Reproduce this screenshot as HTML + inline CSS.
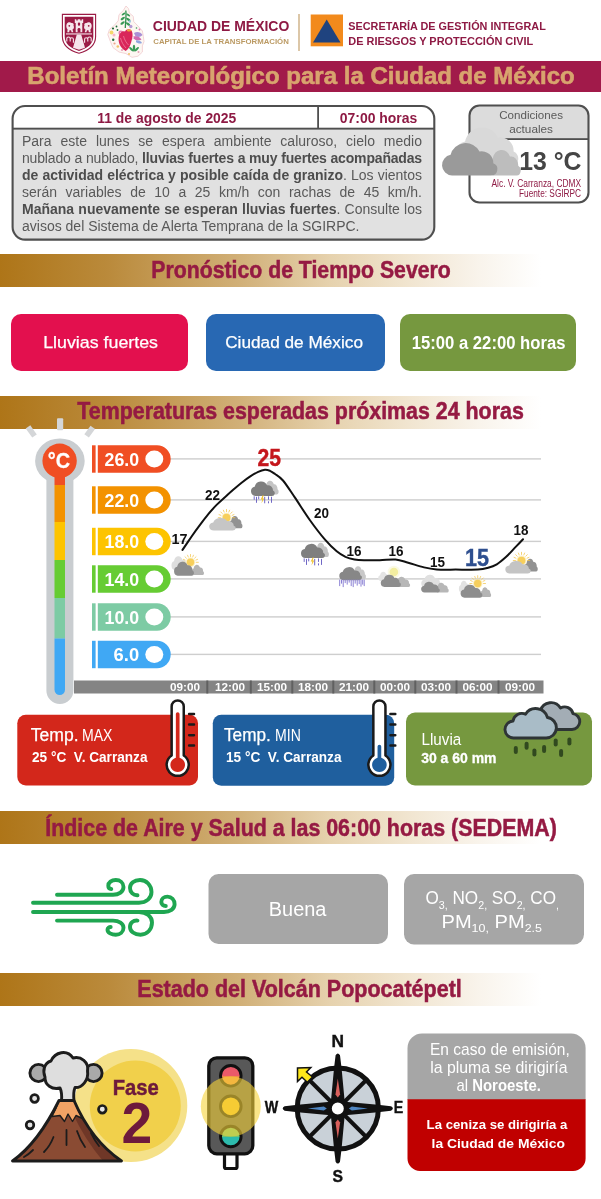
<!DOCTYPE html>
<html lang="es">
<head>
<meta charset="utf-8">
<title>Boletín Meteorológico para la Ciudad de México</title>
<style>
html,body{margin:0;padding:0;background:#fff;}
body{width:601px;height:1199px;overflow:hidden;font-family:"Liberation Sans",sans-serif;}
#page{position:relative;width:601px;height:1199px;overflow:hidden;background:#fff;}
#gfx{position:absolute;left:0;top:0;width:601px;height:1199px;will-change:transform;}
svg text{font-family:"Liberation Sans",sans-serif;}
.band{position:absolute;left:0;width:601px;height:33px;background:linear-gradient(90deg,#ae7518 0%,#ba8a3b 18%,#d1b078 40%,#e6d2ae 55%,#f1e5d0 68%,#f9f4ec 80%,#ffffff 90%);}
#para{position:absolute;left:22px;top:132.5px;width:400px;font-size:14px;line-height:17px;color:#595959;will-change:transform;filter:grayscale(1);}
#para div{text-align:justify;text-align-last:justify;white-space:nowrap;height:17px;}
#para div.last{text-align-last:left;}
#para b{color:#4d4d4d;}
</style>
</head>
<body>
<div id="page">

<!-- SECTION BANDS -->
<div class="band" style="top:61px;height:31.300px;background:#a11a4a;"></div>
<div class="band" style="top:254px;"></div>
<div class="band" style="top:396px;"></div>
<div class="band" style="top:811px;"></div>
<div class="band" style="top:972.500px;"></div>

<svg id="gfx" width="601" height="1199" viewBox="0 0 601 1199">
<defs>
  <path id="cl" d="M4.6 14 A4.600 4.600 0 0 1 4 4.900 A6.6 6.6 0 0 1 16.4 3.400 A5 5 0 0 1 22.3 8.600 A2.8 2.800 0 0 1 21.2 14 Z"/>
  <g id="sun"><circle r="4.6" fill="#f6c544"/><circle r="6" fill="#f9dc7a" opacity="0.45"/><g stroke="#f3c54a" stroke-width="0.9" stroke-linecap="round"><path d="M0 -7.200 V-9.800M5.100 -5.100 L6.900 -6.900M7.200 0 H9.800M-5.100 -5.100 L-6.900 -6.900M-7.200 0 H-9.800M2.800 -6.700 L3.700 -8.900M-2.800 -6.700 L-3.700 -8.900M6.700 -2.800 L8.900 -3.700M-6.700 -2.800 L-8.900 -3.700"/></g></g>
  <g id="rainA"><g stroke="#7068c6" stroke-width="1" stroke-linecap="butt"><path d="M3.500 0 V3.500M5.800 0.500 V6.500M8 0 V3M14 0.500 V7M17.800 0 V3.500M20.800 0.500 V6.500M17.800 5 V7"/></g><path d="M12 -1 L10 3.200 H11.600 L10.800 7 L13.600 2.200 H12 L13 -1 Z" fill="#f0c330"/></g>
  <g id="rainB" stroke="#8a80d4" stroke-width="1" stroke-linecap="butt"><path d="M0.500 0 V6.500M2.300 0 V4M4 0 V7.500M6 0 V3.500M8 0 V5M10 0 V3M12 0 V6.500M14 0 V7.500M16 0 V4M18 0 V6M20 0 V4.500M21.800 0 V7M23.500 0 V5M25 0 V6.500"/></g>
</defs>
<!--HEADER-->
<g id="hdr">
  <!-- shield -->
  <path d="M62.400 14.400 H95.600 V36.500 C95.600 45.500 89 50.500 79 53.300 C69 50.500 62.400 45.500 62.400 36.500 Z" fill="#ffffff" stroke="#9b1b45" stroke-width="1.100"/>
  <path d="M64.700 16.700 H93.300 V36.300 C93.300 43.800 87.800 48.300 79 50.900 C70.200 48.300 64.700 43.800 64.700 36.300 Z" fill="#9b1b45"/>
  <g fill="#f6e6ec">
    <path d="M74.800 19.300 H76.300 V20.600 H77.700 V19.300 H80.300 V20.600 H81.700 V19.300 H83.200 V23 H82.300 V32.300 H75.700 V23 H74.800 Z"/>
    <path d="M66.700 24 C67.500 22 70 21.500 71.500 23 C73 22.500 74.300 24 73.500 25.500 C74.500 27 73.800 29 72.500 29.500 L73.300 32.300 H71.600 L71 30.200 L69.500 30.300 L69.200 32.300 H67.300 L67.600 29.500 C66.200 28.300 66 25.500 66.700 24 Z"/>
    <path d="M91.300 24 C90.500 22 88 21.500 86.500 23 C85 22.500 83.700 24 84.500 25.500 C83.500 27 84.200 29 85.500 29.500 L84.700 32.300 H86.400 L87 30.200 L88.500 30.300 L88.800 32.300 H90.700 L90.400 29.500 C91.800 28.300 92 25.500 91.300 24 Z"/>
    <rect x="66" y="33.400" width="26" height="1.100"/>
    <path d="M76.800 34.500 H81.200 L85 47.800 L79 49.800 L73 47.800 Z"/>
    <path d="M66.800 41.500 V38.600 C66.800 36.400 70.200 36.400 70.200 38.600 V41.500 M70.200 41.500 V39.300 C70.200 37.300 73.400 37.300 73.400 39.300 V42.800" fill="none" stroke="#f6e6ec" stroke-width="1.100"/>
    <path d="M91.200 41.500 V38.600 C91.200 36.400 87.800 36.400 87.800 38.600 V41.500 M87.800 41.500 V39.300 C87.800 37.300 84.600 37.300 84.600 39.300 V42.800" fill="none" stroke="#f6e6ec" stroke-width="1.100"/>
  </g>
  <g fill="#9b1b45"><rect x="77.900" y="22.500" width="2.200" height="3.200" rx="1"/><path d="M77.600 32.300 V29.300 A1.400 1.400 0 0 1 80.400 29.300 V32.300 Z"/><circle cx="69.300" cy="25.800" r="0.900"/><circle cx="88.700" cy="25.800" r="0.900"/></g>
  <!-- cdmx map/heart logo -->
  <path d="M126 6 L128.500 8.600 L129.400 13 L133.300 16.400 L133.700 21.600 L138 26 L142.400 31 L143.300 36.300 L144 41.500 L142.400 45.800 L142.400 52 L138 56.200 L132 57.300 L126 53.600 L119 52 L113 47.600 L110.400 41.500 L107.800 34.600 L109.500 29.400 L114.700 25 L118.200 20.800 L119 14.700 L123.400 10.400 Z" fill="#fdf7f2" stroke="#f2cfd3" stroke-width="0.900" stroke-linejoin="round"/>
  <g>
    <path d="M125.800 10.500 C126.500 16 125.500 22 125.300 28" fill="none" stroke="#2f8f4e" stroke-width="1.300"/>
    <g fill="#3a9a56">
      <ellipse cx="123.500" cy="14" rx="2.200" ry="1" transform="rotate(-35 123.500 14)"/><ellipse cx="128.300" cy="15" rx="2.200" ry="1" transform="rotate(35 128.300 15)"/>
      <ellipse cx="122.800" cy="18.500" rx="2.500" ry="1.100" transform="rotate(-35 122.800 18.500)"/><ellipse cx="128.300" cy="19.500" rx="2.500" ry="1.100" transform="rotate(35 128.300 19.500)"/>
      <ellipse cx="122.600" cy="23" rx="2.500" ry="1.100" transform="rotate(-35 122.600 23)"/><ellipse cx="128" cy="24" rx="2.500" ry="1.100" transform="rotate(35 128 24)"/>
      <ellipse cx="134" cy="48" rx="1.200" ry="3.300"/><ellipse cx="136.600" cy="49.300" rx="1.100" ry="3" transform="rotate(50 136.600 49.300)"/><ellipse cx="131.500" cy="49.300" rx="1.100" ry="3" transform="rotate(-50 131.500 49.300)"/>
    </g>
    <g fill="#1f6b3a"><circle cx="113" cy="28.500" r="1.100"/><circle cx="113.200" cy="39.800" r="1.200"/><circle cx="116.500" cy="26.500" r="0.900"/><circle cx="117.500" cy="30" r="0.900"/></g>
    <circle cx="111.500" cy="32.500" r="1.900" fill="#f4d76a"/><circle cx="114" cy="35" r="1.500" fill="#f7b7c8"/>
    <circle cx="120.800" cy="32.900" r="2.400" fill="#e77ab0"/><circle cx="120.800" cy="32.900" r="1" fill="#f7d0e0"/>
    <circle cx="130.800" cy="26.500" r="1.700" fill="#b79ad6"/><circle cx="129.800" cy="21.500" r="1.200" fill="#9cc7e8"/>
    <circle cx="117.800" cy="46.500" r="1.300" fill="#f3c06a"/><circle cx="122" cy="50" r="1.100" fill="#e8a0b8"/><circle cx="114.500" cy="43.500" r="1.100" fill="#f0a58a"/>
    <path d="M134 33 C137 31 141 32 142.500 35 C141 37 138 37.500 135.500 36.500 Z" fill="#a990d6"/>
    <path d="M133.500 36.500 C136 35.500 140 36.500 141.500 39.500 C139 41 135.500 40.500 133.500 38.500 Z" fill="#d06ab0"/>
    <path d="M136 40.500 C138 40 141 41 142 43 C140 44 137.500 43.500 136 42 Z" fill="#8fa6de"/>
    <circle cx="132.200" cy="37.500" r="1.500" fill="#f4e9f1" stroke="#e9a0c0" stroke-width="0.500"/>
    <circle cx="138.500" cy="52" r="1" fill="#e8a0b8"/><circle cx="129" cy="54" r="1" fill="#f3c06a"/><circle cx="139.500" cy="29.500" r="0.900" fill="#e77ab0"/><circle cx="136.500" cy="28" r="0.800" fill="#3a9a56"/>
  </g>
  <path d="M125.800 51 C120 48 117.800 42 118.800 36.500 C119.500 32.500 122.500 30.500 125 31.500 C125.800 29.500 128.500 28.500 130.500 29.800 C132.800 31.300 133 35 132 39 C131 44 129 49 125.800 51 Z" fill="#d9265a"/>
  <path d="M127 29.800 C128.500 28.800 131 29 131.800 30.800 C130.500 31.800 128.500 31.800 127 31 Z" fill="#f0a23c"/>
  <path d="M120.500 38 C121.500 42 123.500 45.500 126 48 M123.500 36 C124.500 40 126.500 43 128.500 45" stroke="#f28aa8" stroke-width="0.700" fill="none"/>
  <!-- titles -->
  <text x="152.8" y="31.300" font-size="14.400" font-weight="bold" fill="#8e1a44" textLength="136.5" lengthAdjust="spacingAndGlyphs">CIUDAD DE MÉXICO</text>
  <text x="153.3" y="43.900" font-size="7.900" font-weight="bold" fill="#bb9a63" textLength="135.5" lengthAdjust="spacingAndGlyphs">CAPITAL DE LA TRANSFORMACIÓN</text>
  <rect x="298.300" y="14" width="1.400" height="37" fill="#cdb084"/>
  <!-- proteccion civil -->
  <rect x="310.700" y="14.500" width="32.300" height="31.800" fill="#f28a1c"/>
  <path d="M326.700 19.500 L340.500 42.500 H313 Z" fill="#1f437f"/>
  <text x="348.3" y="30" font-size="11" font-weight="bold" fill="#8e1a44" textLength="197.5" lengthAdjust="spacingAndGlyphs">SECRETARÍA DE GESTIÓN INTEGRAL</text>
  <text x="348.3" y="44.800" font-size="11" font-weight="bold" fill="#8e1a44" textLength="185.0" lengthAdjust="spacingAndGlyphs">DE RIESGOS Y PROTECCIÓN CIVIL</text>
  <!-- main title -->
  <text x="27.300" y="84.100" font-size="24" font-weight="bold" fill="#d8a46e" stroke="#d8a46e" stroke-width="0.600" textLength="547.500" lengthAdjust="spacingAndGlyphs">Boletín Meteorológico para la Ciudad de México</text>
</g>
<!--INFOBOX-->
<g id="info">
  <!-- main box -->
  <rect x="12.600" y="106" width="421.700" height="133.600" rx="12.500" ry="12.500" fill="#e1e1e1"/>
  <path d="M12.600 128.700 V118.500 A12.500 12.500 0 0 1 25.100 106 H421.800 A12.500 12.500 0 0 1 434.300 118.500 V128.700 Z" fill="#ffffff"/>
  <rect x="12.600" y="106" width="421.700" height="133.600" rx="12.500" ry="12.500" fill="none" stroke="#4f4f4f" stroke-width="2.100"/>
  <rect x="12.600" y="127.700" width="421.700" height="1.900" fill="#4f4f4f"/>
  <rect x="317.200" y="106" width="1.800" height="22.500" fill="#4f4f4f"/>
  <text x="97.3" y="122.700" font-size="14.800" font-weight="bold" fill="#8e1a44" textLength="139.0" lengthAdjust="spacingAndGlyphs">11 de agosto de 2025</text>
  <text x="339.8" y="122.700" font-size="14.800" font-weight="bold" fill="#8e1a44" textLength="77.5" lengthAdjust="spacingAndGlyphs">07:00 horas</text>
  <!-- conditions box -->
  <rect x="469.500" y="105.500" width="119" height="97" rx="10" ry="10" fill="#ffffff"/>
  <path d="M469.500 139 V115.500 A10 10 0 0 1 479.500 105.500 H578.500 A10 10 0 0 1 588.500 115.500 V139 Z" fill="#dcdcdc"/>
  <rect x="469.500" y="105.500" width="119" height="97" rx="10" ry="10" fill="none" stroke="#4f4f4f" stroke-width="2.100"/>
  <rect x="469.5" y="138.2" width="119" height="1.8" fill="#4f4f4f"/>
  <text x="499.2" y="119" font-size="11" fill="#5a5a5a" textLength="63.8" lengthAdjust="spacingAndGlyphs">Condiciones</text>
  <text x="509.2" y="132.5" font-size="11" fill="#5a5a5a" textLength="43.8" lengthAdjust="spacingAndGlyphs">actuales</text>
  <!-- cloud icon -->
  <g>
    <use href="#cl" transform="translate(454.500 128.300) scale(2.650 2.700)" fill="#d9d9d9"/>
    <use href="#cl" transform="translate(487 150.500) scale(1.400 1.780)" fill="#bdbdbd"/>
    <use href="#cl" transform="translate(441.300 143.800) scale(2.330 2.260)" fill="#9a9a9a"/>
  </g>
  <text x="519.2" y="170.3" font-size="25.300" font-weight="bold" fill="#454545" textLength="62.3" lengthAdjust="spacingAndGlyphs">13 °C</text>
  <text x="491.5" y="186.900" font-size="10" fill="#8e1a44" textLength="89.6" lengthAdjust="spacingAndGlyphs">Alc. V. Carranza, CDMX</text>
  <text x="519.0" y="197.200" font-size="10" fill="#8e1a44" textLength="62.1" lengthAdjust="spacingAndGlyphs">Fuente: SGIRPC</text>
</g>
<!--PILLS-->
<g id="pills">
  <text x="151.3" y="277.700" font-size="23.6" font-weight="bold" fill="#951a43" stroke="#951a43" stroke-width="0.500" textLength="299.5" lengthAdjust="spacingAndGlyphs">Pronóstico de Tiempo Severo</text>
  <rect x="11" y="314" width="177" height="57" rx="10" ry="10" fill="#e3104e"/>
  <rect x="206" y="314" width="179" height="57" rx="10" ry="10" fill="#2868b3"/>
  <rect x="400" y="314" width="176" height="57" rx="10" ry="10" fill="#76983f"/>
  <text x="43.2" y="347.800" font-size="16.800" fill="#ffffff" stroke="#ffffff" stroke-width="0.250" textLength="114.8" lengthAdjust="spacingAndGlyphs">Lluvias fuertes</text>
  <text x="225.2" y="347.800" font-size="16.800" fill="#ffffff" stroke="#ffffff" stroke-width="0.250" textLength="137.8" lengthAdjust="spacingAndGlyphs">Ciudad de México</text>
  <text x="411.7" y="349.300" font-size="17.600" font-weight="bold" fill="#ffffff" textLength="153.8" lengthAdjust="spacingAndGlyphs">15:00 a 22:00 horas</text>
  <text x="77.3" y="418.800" font-size="23.6" font-weight="bold" fill="#951a43" stroke="#951a43" stroke-width="0.500" textLength="446.5" lengthAdjust="spacingAndGlyphs">Temperaturas esperadas próximas 24 horas</text>
  <text x="45.3" y="836" font-size="23.6" font-weight="bold" fill="#951a43" stroke="#951a43" stroke-width="0.500" textLength="511.5" lengthAdjust="spacingAndGlyphs">Índice de Aire y Salud a las 06:00 horas (SEDEMA)</text>
  <text x="137.3" y="996.7" font-size="23.6" font-weight="bold" fill="#951a43" stroke="#951a43" stroke-width="0.500" textLength="324.500" lengthAdjust="spacingAndGlyphs">Estado del Volcán Popocatépetl</text>
</g>
<!--CHART-->
<g id="chart">
  <rect x="165" y="458.2" width="376" height="1.400" fill="#cecece"/>
  <rect x="165" y="499.2" width="376" height="1.400" fill="#cecece"/>
  <rect x="165" y="540.7" width="376" height="1.400" fill="#cecece"/>
  <rect x="165" y="578.2" width="376" height="1.400" fill="#cecece"/>
  <rect x="165" y="616.2" width="376" height="1.400" fill="#cecece"/>
  <rect x="165" y="653.7" width="376" height="1.400" fill="#cecece"/>
  <rect x="57" y="418.300" width="6.200" height="12" rx="1" fill="#d4d6d8"/>
  <path d="M28 426.800 L34.500 436" stroke="#d4d6d8" stroke-width="5.600" stroke-linecap="butt"/>
  <path d="M92.800 427.300 L86.600 435.800" stroke="#d4d6d8" stroke-width="5.600" stroke-linecap="butt"/>
  <ellipse cx="59.900" cy="461" rx="24.800" ry="22.600" fill="#c9cdd0"/><path d="M46.400 470 H73.400 V690.500 A13.500 13.500 0 0 1 46.400 690.500 Z" fill="#c9cdd0"/>
  <clipPath id="tube"><path d="M54.5 470 H65 V689.7 A5.25 5.25 0 0 1 54.5 689.7 Z"/></clipPath>
  <g clip-path="url(#tube)">
    <rect x="54" y="470" width="12" height="15" fill="#f04e23"/>
    <rect x="54" y="485" width="12" height="37" fill="#f39200"/>
    <rect x="54" y="522" width="12" height="38" fill="#fdc400"/>
    <rect x="54" y="560" width="12" height="38" fill="#66cc33"/>
    <rect x="54" y="598" width="12" height="40.5" fill="#7dcba4"/>
    <rect x="54" y="638.5" width="12" height="61.5" fill="#40a8f4"/>
  </g>
  <circle cx="59.600" cy="460.800" r="17.200" fill="#f04e23"/>
  <text x="47.800" y="467.700" font-size="22" font-weight="bold" fill="#ffffff" stroke="#ffffff" stroke-width="0.300" textLength="22.300" lengthAdjust="spacingAndGlyphs">°C</text>
  <rect x="92" y="445.3" width="3.600" height="27.400" fill="#f04e23"/>
  <path d="M97.800 445.3 H157 A13.700 13.700 0 0 1 157 472.7 H97.800 Z" fill="#f04e23"/>
  <ellipse cx="154.3" cy="459" rx="9" ry="8.4" fill="#ffffff"/>
  <text x="104.600" y="465.7" font-size="18" font-weight="bold" fill="#ffffff" textLength="34.600" lengthAdjust="spacingAndGlyphs">26.0</text>
  <rect x="92" y="486.3" width="3.600" height="27.400" fill="#f39200"/>
  <path d="M97.800 486.3 H157 A13.700 13.700 0 0 1 157 513.7 H97.800 Z" fill="#f39200"/>
  <ellipse cx="154.3" cy="500" rx="9" ry="8.4" fill="#ffffff"/>
  <text x="104.600" y="506.7" font-size="18" font-weight="bold" fill="#ffffff" textLength="34.600" lengthAdjust="spacingAndGlyphs">22.0</text>
  <rect x="92" y="527.8" width="3.600" height="27.400" fill="#fdc400"/>
  <path d="M97.800 527.8 H157 A13.700 13.700 0 0 1 157 555.2 H97.800 Z" fill="#fdc400"/>
  <ellipse cx="154.3" cy="541.5" rx="9" ry="8.4" fill="#ffffff"/>
  <text x="104.600" y="548.2" font-size="18" font-weight="bold" fill="#ffffff" textLength="34.600" lengthAdjust="spacingAndGlyphs">18.0</text>
  <rect x="92" y="565.3" width="3.600" height="27.400" fill="#66cc33"/>
  <path d="M97.800 565.3 H157 A13.700 13.700 0 0 1 157 592.7 H97.800 Z" fill="#66cc33"/>
  <ellipse cx="154.3" cy="579" rx="9" ry="8.4" fill="#ffffff"/>
  <text x="104.600" y="585.7" font-size="18" font-weight="bold" fill="#ffffff" textLength="34.600" lengthAdjust="spacingAndGlyphs">14.0</text>
  <rect x="92" y="603.3" width="3.600" height="27.400" fill="#7dcba4"/>
  <path d="M97.800 603.3 H157 A13.700 13.700 0 0 1 157 630.7 H97.800 Z" fill="#7dcba4"/>
  <ellipse cx="154.3" cy="617" rx="9" ry="8.4" fill="#ffffff"/>
  <text x="104.600" y="623.7" font-size="18" font-weight="bold" fill="#ffffff" textLength="34.600" lengthAdjust="spacingAndGlyphs">10.0</text>
  <rect x="92" y="640.8" width="3.600" height="27.400" fill="#40a8f4"/>
  <path d="M97.800 640.8 H157 A13.700 13.700 0 0 1 157 668.2 H97.800 Z" fill="#40a8f4"/>
  <ellipse cx="154.3" cy="654.5" rx="9" ry="8.4" fill="#ffffff"/>
  <text x="113.600" y="661.200" font-size="18" font-weight="bold" fill="#ffffff" textLength="25.500" lengthAdjust="spacingAndGlyphs">6.0</text>
  <rect x="74" y="680.5" width="469.5" height="13" fill="#848484"/>
  <text x="170" y="691.2" font-size="11" font-weight="bold" fill="#ffffff" textLength="30" lengthAdjust="spacingAndGlyphs">09:00</text>
  <text x="215" y="691.2" font-size="11" font-weight="bold" fill="#ffffff" textLength="30" lengthAdjust="spacingAndGlyphs">12:00</text>
  <text x="257" y="691.2" font-size="11" font-weight="bold" fill="#ffffff" textLength="30" lengthAdjust="spacingAndGlyphs">15:00</text>
  <text x="298" y="691.2" font-size="11" font-weight="bold" fill="#ffffff" textLength="30" lengthAdjust="spacingAndGlyphs">18:00</text>
  <text x="339" y="691.2" font-size="11" font-weight="bold" fill="#ffffff" textLength="30" lengthAdjust="spacingAndGlyphs">21:00</text>
  <text x="380" y="691.2" font-size="11" font-weight="bold" fill="#ffffff" textLength="30" lengthAdjust="spacingAndGlyphs">00:00</text>
  <text x="421" y="691.2" font-size="11" font-weight="bold" fill="#ffffff" textLength="30" lengthAdjust="spacingAndGlyphs">03:00</text>
  <text x="462.5" y="691.2" font-size="11" font-weight="bold" fill="#ffffff" textLength="30" lengthAdjust="spacingAndGlyphs">06:00</text>
  <text x="505" y="691.2" font-size="11" font-weight="bold" fill="#ffffff" textLength="30" lengthAdjust="spacingAndGlyphs">09:00</text>
  <rect x="206.3" y="680.500" width="2" height="13" fill="#606060"/>
  <rect x="249.8" y="680.500" width="2" height="13" fill="#606060"/>
  <rect x="291.3" y="680.500" width="2" height="13" fill="#606060"/>
  <rect x="332.3" y="680.500" width="2" height="13" fill="#606060"/>
  <rect x="373.3" y="680.500" width="2" height="13" fill="#606060"/>
  <rect x="414.3" y="680.500" width="2" height="13" fill="#606060"/>
  <rect x="455.5" y="680.500" width="2" height="13" fill="#606060"/>
  <rect x="497.5" y="680.500" width="2" height="13" fill="#606060"/>
  <path d="M182.5 549.9 C184.0 547.7 188.7 540.7 191.6 536.5 C194.5 532.3 197.2 528.6 200 524.9 C202.8 521.2 205.5 517.4 208.3 514.1 C211.1 510.8 213.8 507.7 216.6 504.9 C219.4 502.1 222.1 499.7 224.9 497.2 C227.7 494.7 230.4 492.2 233.2 489.8 C236.0 487.4 238.8 484.9 241.6 482.7 C244.4 480.5 247.1 478.4 249.9 476.6 C252.7 474.8 255.7 473.0 258.2 471.8 C260.7 470.6 262.9 469.9 264.9 469.7 C266.9 469.5 268.3 470.1 270 470.8 C271.7 471.5 272.8 472.4 275 474.0 C277.2 475.6 279.7 476.6 283 480.5 C286.3 484.4 290.3 490.8 294.8 497.4 C299.3 504.0 304.8 513.0 309.8 520 C314.8 527.0 320.3 534.2 324.8 539.4 C329.3 544.6 333.2 548.4 336.7 551.3 C340.1 554.2 342.5 555.4 345.5 556.8 C348.5 558.1 351.4 558.8 354.5 559.4 C357.6 560.0 359.8 560.1 364 560.2 C368.2 560.3 374.5 560.3 379.8 560.2 C385.1 560.1 390.9 559.1 395.6 559.5 C400.3 559.9 403.5 561.4 408.2 562.7 C412.9 564.0 419.2 566.3 424 567.4 C428.8 568.5 431.4 569.0 436.7 569.4 C442.0 569.8 448.8 569.6 455.7 569.6 C462.6 569.6 472.5 569.8 477.8 569.5 C483.1 569.2 484.1 568.9 487.3 568 C490.5 567.1 493.7 566.2 496.8 564.3 C499.9 562.4 503.0 559.7 506.2 556.8 C509.4 553.9 512.9 549.8 515.7 546.9 C518.5 544.0 521.8 540.5 523 539.2" fill="none" stroke="#111111" stroke-width="2" stroke-linecap="round"/>
  <text x="171.5" y="543.8" font-size="15.500" font-weight="bold" fill="#111" textLength="16.0" lengthAdjust="spacingAndGlyphs">17</text>
  <text x="205" y="500.3" font-size="15.500" font-weight="bold" fill="#111" textLength="15" lengthAdjust="spacingAndGlyphs">22</text>
  <text x="257.5" y="465.8" font-size="23.500" font-weight="bold" fill="#c4161c" stroke="#c4161c" stroke-width="0.400" textLength="23.5" lengthAdjust="spacingAndGlyphs">25</text>
  <text x="314" y="517.8" font-size="15.500" font-weight="bold" fill="#111" textLength="15" lengthAdjust="spacingAndGlyphs">20</text>
  <text x="346.5" y="556.3" font-size="15.500" font-weight="bold" fill="#111" textLength="15.0" lengthAdjust="spacingAndGlyphs">16</text>
  <text x="388.5" y="556.3" font-size="15.500" font-weight="bold" fill="#111" textLength="15.0" lengthAdjust="spacingAndGlyphs">16</text>
  <text x="430" y="566.8" font-size="15.500" font-weight="bold" fill="#111" textLength="15" lengthAdjust="spacingAndGlyphs">15</text>
  <text x="465" y="565.6" font-size="23.500" font-weight="bold" fill="#2e4f8f" stroke="#2e4f8f" stroke-width="0.400" textLength="24" lengthAdjust="spacingAndGlyphs">15</text>
  <text x="513.5" y="535.3" font-size="15.500" font-weight="bold" fill="#111" textLength="15.0" lengthAdjust="spacingAndGlyphs">18</text>
<g><use href="#cl" transform="translate(171.3 556.5) scale(0.68 0.95)" fill="#dedede"/><use href="#sun" transform="translate(190.5 562.3) scale(0.8)"/><use href="#cl" transform="translate(191.5 565) scale(0.52 0.72)" fill="#b4b4b4"/><use href="#cl" transform="translate(173.8 562) scale(0.84 0.98)" fill="#8d8d8d"/></g>
<g><use href="#cl" transform="translate(229 516.3) scale(0.56 0.86)" fill="#929292"/><use href="#sun" transform="translate(226.5 517.7) scale(0.84)"/><use href="#cl" transform="translate(208.8 518.2) scale(1.12 0.88)" fill="#c6c6c6"/></g>
<g><use href="#cl" transform="translate(263.5 481) scale(0.63 0.96)" fill="#c4c4c4"/><use href="#cl" transform="translate(250.7 481.8) scale(1.0 1.01)" fill="#7f7f7f"/><use href="#rainA" transform="translate(250.7 496.3) scale(1.0)"/></g>
<g><use href="#cl" transform="translate(314.5 543.1) scale(0.6 1.0)" fill="#c4c4c4"/><use href="#cl" transform="translate(300.7 544.2) scale(1.01 0.99)" fill="#7f7f7f"/><use href="#rainA" transform="translate(300.7 558.4) scale(1.0)"/></g>
<g><use href="#cl" transform="translate(352 566.6) scale(0.58 0.9)" fill="#c8c8c8"/><use href="#cl" transform="translate(339 567.4) scale(0.955 0.91)" fill="#878787"/><use href="#rainB" transform="translate(339.2 579.6) scale(1.0)"/></g>
<g><use href="#cl" transform="translate(378 572) scale(0.5 0.65)" fill="#e4e4e4"/><circle cx="393.9" cy="572" r="6.200" fill="#f8f5cc" opacity="0.500"/><circle cx="393.9" cy="572" r="4.300" fill="#f3eea0"/><use href="#cl" transform="translate(395 577) scale(0.63 0.72)" fill="#b7b7b7"/><use href="#cl" transform="translate(380.5 575) scale(0.85 0.86)" fill="#8d8d8d"/></g>
<g><use href="#cl" transform="translate(421 575) scale(0.85 0.9)" fill="#e0e0e0"/><use href="#cl" transform="translate(435.5 583) scale(0.55 0.68)" fill="#b7b7b7"/><use href="#cl" transform="translate(420.9 582) scale(0.79 0.75)" fill="#8d8d8d"/></g>
<g><use href="#cl" transform="translate(458.7 581) scale(0.5 0.8)" fill="#e2e2e2"/><use href="#sun" transform="translate(477.7 583.5) scale(0.8)"/><use href="#cl" transform="translate(480.3 587.4) scale(0.45 0.69)" fill="#b4b4b4"/><use href="#cl" transform="translate(460.3 585) scale(0.92 0.91)" fill="#8d8d8d"/></g>
<g><use href="#cl" transform="translate(524.3 559) scale(0.56 0.9)" fill="#929292"/><use href="#sun" transform="translate(521.5 560.5) scale(0.84)"/><use href="#cl" transform="translate(505 561.3) scale(1.07 0.87)" fill="#c4c4c4"/></g>
</g>
<!--CARDS-->
<g id="cards">
  <rect x="17.300" y="714.700" width="180.700" height="70.800" rx="8.500" ry="8.500" fill="#d3271b"/>
  <rect x="212.800" y="714.700" width="181.400" height="71" rx="8.500" ry="8.500" fill="#1f5f9e"/>
  <rect x="406" y="712.5" width="186" height="73" rx="9" ry="9" fill="#76983f"/>
  <text x="30.800" y="740.800" font-size="17.600" fill="#ffffff" stroke="#ffffff" stroke-width="0.250" textLength="47.800" lengthAdjust="spacingAndGlyphs">Temp.</text>
  <text x="82" y="740.800" font-size="16.200" fill="#ffffff" textLength="30.500" lengthAdjust="spacingAndGlyphs">MAX</text>
  <text x="32" y="762.300" font-size="14.400" font-weight="bold" fill="#ffffff" textLength="115.500" lengthAdjust="spacingAndGlyphs" xml:space="preserve">25 °C  V. Carranza</text>
  <text x="224" y="740.800" font-size="17.600" fill="#ffffff" stroke="#ffffff" stroke-width="0.250" textLength="46.800" lengthAdjust="spacingAndGlyphs">Temp.</text>
  <text x="275" y="740.800" font-size="16.200" fill="#ffffff" textLength="25.800" lengthAdjust="spacingAndGlyphs">MIN</text>
  <text x="226" y="762.300" font-size="14.400" font-weight="bold" fill="#ffffff" textLength="115.500" lengthAdjust="spacingAndGlyphs" xml:space="preserve">15 °C  V. Carranza</text>
  <text x="421.5" y="744.800" font-size="16.300" fill="#ffffff" textLength="39.8" lengthAdjust="spacingAndGlyphs">Lluvia</text>
  <text x="421.2" y="762.500" font-size="14.500" font-weight="bold" fill="#ffffff" stroke="#ffffff" stroke-width="0.300" textLength="75.3" lengthAdjust="spacingAndGlyphs">30 a 60 mm</text>
  <path d="M171.65 706.500 A6.05 6.05 0 0 1 183.75 706.500 V755.55 A11.05 11.05 0 1 1 171.65 755.55 Z" fill="#ffffff" stroke="#1a1a1a" stroke-width="2.500" stroke-linejoin="round"/>
  <path d="M175.85 714 A1.85 1.85 0 0 1 179.55 714 V757.74 A7.3 7.3 0 1 1 175.85 757.74 Z" fill="#d3271b"/>
  <rect x="187.9" y="712.75" width="7.300" height="2.500" rx="1.100" fill="#1a1a1a"/>
  <rect x="187.9" y="723.35" width="7.300" height="2.500" rx="1.100" fill="#1a1a1a"/>
  <rect x="187.9" y="733.95" width="7.300" height="2.500" rx="1.100" fill="#1a1a1a"/>
  <rect x="187.9" y="744.35" width="7.300" height="2.500" rx="1.100" fill="#1a1a1a"/>
  <path d="M373.35 706.500 A6.05 6.05 0 0 1 385.45 706.500 V755.55 A11.05 11.05 0 1 1 373.35 755.55 Z" fill="#ffffff" stroke="#1a1a1a" stroke-width="2.500" stroke-linejoin="round"/>
  <path d="M377.55 746.5 A1.85 1.85 0 0 1 381.25 746.5 V757.74 A7.3 7.3 0 1 1 377.55 757.74 Z" fill="#1f5f9e"/>
  <rect x="389.2" y="712.75" width="7.300" height="2.500" rx="1.100" fill="#1a1a1a"/>
  <rect x="389.2" y="723.35" width="7.300" height="2.500" rx="1.100" fill="#1a1a1a"/>
  <rect x="389.2" y="733.95" width="7.300" height="2.500" rx="1.100" fill="#1a1a1a"/>
  <rect x="389.2" y="744.35" width="7.300" height="2.500" rx="1.100" fill="#1a1a1a"/>
  <!-- rain cloud icon -->
  <g stroke="#2e3436" stroke-width="2.900" stroke-linejoin="round">
    <path d="M548 729.500 H572 A8 8 0 0 0 573 713.600 A8.5 8.5 0 0 0 560.500 708 A11 11 0 0 0 540.500 710.500 Z" fill="#a3adb5"/>
    <path d="M514 738 A8.500 8.500 0 0 1 513 721 A9 9 0 0 1 525.500 714.200 A12.200 12.200 0 0 1 547.500 717.500 A10.300 10.300 0 0 1 546 738 Z" fill="#a9bcc7"/>
  </g>
  <g fill="#31491f">
    <rect x="513.800" y="745.900" width="4" height="8" rx="2"/><rect x="524.600" y="741.700" width="4" height="8" rx="2"/>
    <rect x="532.400" y="748.400" width="4" height="8" rx="2"/><rect x="542.100" y="745.100" width="4" height="8" rx="2"/>
    <rect x="553.700" y="738.400" width="4" height="8" rx="2"/><rect x="559.100" y="748.900" width="4" height="8" rx="2"/>
    <rect x="567.400" y="737.600" width="4" height="8" rx="2"/>
  </g>
</g>
<!--AIR-->
<g id="air">
  <g fill="none" stroke="#1fa651" stroke-width="3.900" stroke-linecap="round" stroke-linejoin="round">
    <path d="M57 894.800 H113 C119 894.800 123.500 891.500 123.500 887 C123.500 882.700 120 880 115.800 880 C111.500 880 108.300 882.500 108.300 885.700 C108.300 887.500 109.500 888.800 111.300 889"/>
    <path d="M33 902.700 H139 C146.500 902.700 151.500 898 151.500 892 C151.500 885.300 146.500 880 140 880 C134 880 130 883.500 130 888 C130 892.500 133.500 895.500 137.500 895.300"/>
    <path d="M33 912 H164 C170 912 174.600 909 174.600 904.300 C174.600 899.800 171.500 896.600 167.500 896.600 C163.800 896.600 161.300 899 161.300 902 C161.300 904.300 163 906 165.800 906"/>
    <path d="M128 912 H139 C146.500 912 152 916.500 152 922.500 C152 929.500 147 934.700 140.500 934.700 C134.500 934.700 130 931.500 130 927 C130 922.700 133.500 920.200 137.500 920.600"/>
    <path d="M57 920.600 H113 C119 920.600 123.500 923.500 123.500 927.800 C123.500 932 120 934.700 115.800 934.700 C111.500 934.700 107.500 932.800 107.500 929.800 C107.500 928 109 927 110.700 927"/>
  </g>
  <rect x="208.500" y="874" width="179.500" height="70" rx="10" ry="10" fill="#a6a6a6"/>
  <rect x="404" y="874" width="180" height="70.500" rx="10" ry="10" fill="#a6a6a6"/>
  <text x="268.8" y="916" font-size="20" fill="#ffffff" textLength="57.6" lengthAdjust="spacingAndGlyphs">Buena</text>
  <g fill="#ffffff" font-size="18.500">
    <text x="425.500" y="903.600"><tspan textLength="133.500" lengthAdjust="spacingAndGlyphs">O<tspan font-size="11.500" dy="5">3,</tspan><tspan dy="-5"> NO</tspan><tspan font-size="11.500" dy="5">2,</tspan><tspan dy="-5"> SO</tspan><tspan font-size="11.500" dy="5">2,</tspan><tspan dy="-5"> CO</tspan><tspan font-size="11.500" dy="5">,</tspan></tspan></text>
    <text x="441.500" y="927.700"><tspan textLength="100.500" lengthAdjust="spacingAndGlyphs">PM<tspan font-size="11.500" dy="4.600">10,</tspan><tspan dy="-4.600"> PM</tspan><tspan font-size="11.500" dy="4.600">2.5</tspan></tspan></text>
  </g>
</g>
<!--VOLCANO-->
<g id="volc">
  <!-- fase circles -->
  <circle cx="130.800" cy="1105.500" r="56.500" fill="#f5e189"/>
  <circle cx="135.300" cy="1106" r="45.500" fill="#f1d04b"/>
  <!-- smoke -->
  <g stroke="#1c1c1c" stroke-width="2.900" stroke-linejoin="round">
    <circle cx="38.500" cy="1073" r="8.600" fill="#a9a9a9"/>
    <circle cx="93.500" cy="1073" r="8.600" fill="#a9a9a9"/>
    <path d="M61.500 1101 C62 1095 61.500 1091 60 1088 C52 1090 44.500 1085 45 1077 C42.500 1071 44 1063 51 1061 C55 1052 67 1049 73 1058 C81 1056 89 1062 87.500 1071 C89 1080 82 1088 75 1087.500 C73.500 1091 73.500 1096 74 1101 Z" fill="#dedede"/>
  </g>
  <!-- mountain -->
  <path d="M12.500 1161 Q38 1143 59 1100.500 H74 Q91 1140 121.500 1161 Z" fill="#8a4b33"/>
  <path d="M74 1100.500 Q91 1140 121.500 1161 H103 Q85 1140 72 1112 Z" fill="#6f3727"/>
  <path d="M59 1100.500 H74 Q77.500 1109 82.500 1118.500 L76 1115.500 L72.500 1121.500 L68 1114 L64.500 1121.500 L60 1115.500 L52 1116.500 Q56 1109 59 1100.500 Z" fill="#f2a365" stroke="#1c1c1c" stroke-width="1.400" stroke-linejoin="round"/>
  <path d="M12.500 1161 Q38 1143 59 1100.500 H74 Q91 1140 121.500 1161 Z" fill="none" stroke="#1c1c1c" stroke-width="2.900" stroke-linejoin="round"/>
  <g stroke="#1c1c1c" stroke-width="1.800" stroke-linecap="round" fill="none">
    <path d="M53.500 1137 Q50 1146 44 1152"/><path d="M66.500 1130 V1145"/><path d="M77 1131 Q80 1140 85 1147"/><path d="M91 1133 Q95 1141 99 1146"/><path d="M33 1150 Q28 1155 24 1157"/>
  </g>
  <g fill="#e6e6e6" stroke="#1c1c1c" stroke-width="2.700">
    <circle cx="34.600" cy="1098.500" r="3.800"/><circle cx="30" cy="1125" r="3.800"/><circle cx="102.300" cy="1109.300" r="3.800"/>
  </g>
  <text x="112.800" y="1094.500" font-size="22.500" font-weight="bold" fill="#6d1a3c" stroke="#6d1a3c" stroke-width="0.500" textLength="46" lengthAdjust="spacingAndGlyphs">Fase</text>
  <text x="121.500" y="1143" font-size="57.500" font-weight="bold" fill="#6d1a3c" textLength="30.700" lengthAdjust="spacingAndGlyphs">2</text>
  <!-- traffic light -->
  <rect x="224.500" y="1150" width="12.500" height="18.500" rx="1.500" fill="#ffffff" stroke="#111111" stroke-width="3.200" stroke-linejoin="round"/>
  <rect x="208.800" y="1057.800" width="44" height="96" rx="8" ry="8" fill="#585858" stroke="#111111" stroke-width="3.300"/>
  <clipPath id="cr"><circle cx="230.800" cy="1075.800" r="10"/></clipPath>
  <clipPath id="cg"><circle cx="230.800" cy="1136.500" r="10"/></clipPath>
  <g clip-path="url(#cr)"><rect x="220" y="1065" width="22" height="11" fill="#ea5a6a"/><rect x="220" y="1076" width="22" height="11" fill="#f08c4a"/></g>
  <g clip-path="url(#cg)"><rect x="220" y="1126" width="22" height="11" fill="#6fc276"/><rect x="220" y="1137" width="22" height="11" fill="#2dbbad"/></g>
  <circle cx="230.800" cy="1075.800" r="10.300" fill="none" stroke="#111111" stroke-width="2.900"/>
  <circle cx="230.800" cy="1136.500" r="10.300" fill="none" stroke="#111111" stroke-width="2.900"/>
  <circle cx="230.800" cy="1106.300" r="10.300" fill="#f6c02f" stroke="#111111" stroke-width="2.900"/>
  <circle cx="230.800" cy="1106.500" r="30" fill="#f7d338" opacity="0.600"/>
<!--COMPASS-->
  <g id="compass">
    <circle cx="337.8" cy="1108.5" r="40.600" fill="#c9d1d8" stroke="#111111" stroke-width="5"/>
    <g stroke="#111111" stroke-width="4" stroke-linecap="butt">
      <path d="M308.3 1079.0 L367.3 1138.0"/><path d="M367.3 1079.0 L308.3 1138.0"/>
    </g>
    <path d="M335.6 1055.3 Q337.8 1051.5 340.0 1055.3 L341.6 1068.5 L344.4 1098.5 L345.4 1100.9 L347.8 1101.9 L377.8 1104.7 L391.0 1106.3 Q394.8 1108.5 391.0 1110.7 L377.8 1112.3 L347.8 1115.1 L345.4 1116.1 L344.4 1118.5 L341.6 1148.5 L340.0 1161.7 Q337.8 1165.5 335.6 1161.7 L334.0 1148.5 L331.2 1118.5 L330.2 1116.1 L327.8 1115.1 L297.8 1112.3 L284.6 1110.7 Q280.8 1108.5 284.6 1106.3 L297.8 1104.7 L327.8 1101.9 L330.2 1100.9 L331.2 1098.5 L334.0 1068.5 Z" fill="#111111"/>
    <path d="M337.8 1078.5 L340.1 1094.5 L337.8 1097.5 L335.5 1094.5 Z" fill="#d9605c"/>
    <path d="M337.8 1138.5 L340.1 1122.5 L337.8 1119.5 L335.5 1122.5 Z" fill="#d9605c"/>
    <path d="M307.8 1108.5 L323.8 1106.4 L326.8 1108.5 L323.8 1110.6 Z" fill="#4f86c2"/>
    <path d="M367.8 1108.5 L351.8 1106.4 L348.8 1108.5 L351.8 1110.6 Z" fill="#4f86c2"/>
    <circle cx="337.8" cy="1108.5" r="7.300" fill="#ffffff" stroke="#111111" stroke-width="2.600"/>
    <path d="M297.500 1068 L310.800 1067.500 L306.500 1072 L312.500 1077 L307.300 1082.300 L302 1077.300 L297.500 1081.500 Z" fill="#ffe81a" stroke="#111111" stroke-width="1.500" stroke-linejoin="miter"/>
    <g font-size="16.500" font-weight="bold" fill="#111111" stroke="#111111" stroke-width="0.400">
      <text x="331.500" y="1047.200" textLength="12.500" lengthAdjust="spacingAndGlyphs">N</text>
      <text x="332.500" y="1181.600" textLength="10.500" lengthAdjust="spacingAndGlyphs">S</text>
      <text x="393.800" y="1113" textLength="9.500" lengthAdjust="spacingAndGlyphs">E</text>
      <text x="264.800" y="1113" textLength="13.500" lengthAdjust="spacingAndGlyphs">W</text>
    </g>
  </g>
<!--RBOX-->
  <g id="rbox">
    <path d="M407.500 1100 V1048 A14.500 14.500 0 0 1 422 1033.500 H571.100 A14.500 14.500 0 0 1 585.600 1048 V1100 Z" fill="#a6a6a6"/>
    <path d="M407.500 1099.300 H585.600 V1158.500 A12.500 12.500 0 0 1 573.100 1171 H420 A12.500 12.500 0 0 1 407.500 1158.500 Z" fill="#c00000"/>
    <g fill="#ffffff" font-size="17">
      <text x="430.0" y="1054.700" textLength="139.8" lengthAdjust="spacingAndGlyphs">En caso de emisión,</text>
      <text x="430.2" y="1072.700" textLength="137.3" lengthAdjust="spacingAndGlyphs">la pluma se dirigiría</text>
      <text x="456.500" y="1090.500"><tspan textLength="84.500" lengthAdjust="spacingAndGlyphs">al <tspan font-weight="bold">Noroeste.</tspan></tspan></text>
    </g>
    <g fill="#ffffff" font-size="13" font-weight="bold">
      <text x="426.6" y="1128.800" textLength="140.8" lengthAdjust="spacingAndGlyphs">La ceniza se dirigiría a</text>
      <text x="431.6" y="1147.700" textLength="133.3" lengthAdjust="spacingAndGlyphs">la Ciudad de México</text>
    </g>
  </g>
</g>
</svg>

<!--PARA-->
<div id="para">
<div>Para este lunes se espera ambiente caluroso, cielo medio</div>
<div style="letter-spacing:-0.17px">nublado a nublado, <b>lluvias fuertes a muy fuertes acompañadas</b></div>
<div><b>de actividad eléctrica y posible caída de granizo</b>. Los vientos</div>
<div>serán variables de 10 a 25 km/h con rachas de 45 km/h.</div>
<div><b>Mañana nuevamente se esperan lluvias fuertes</b>. Consulte los</div>
<div class="last">avisos del Sistema de Alerta Temprana de la SGIRPC.</div>
</div>

</div>
</body>
</html>
